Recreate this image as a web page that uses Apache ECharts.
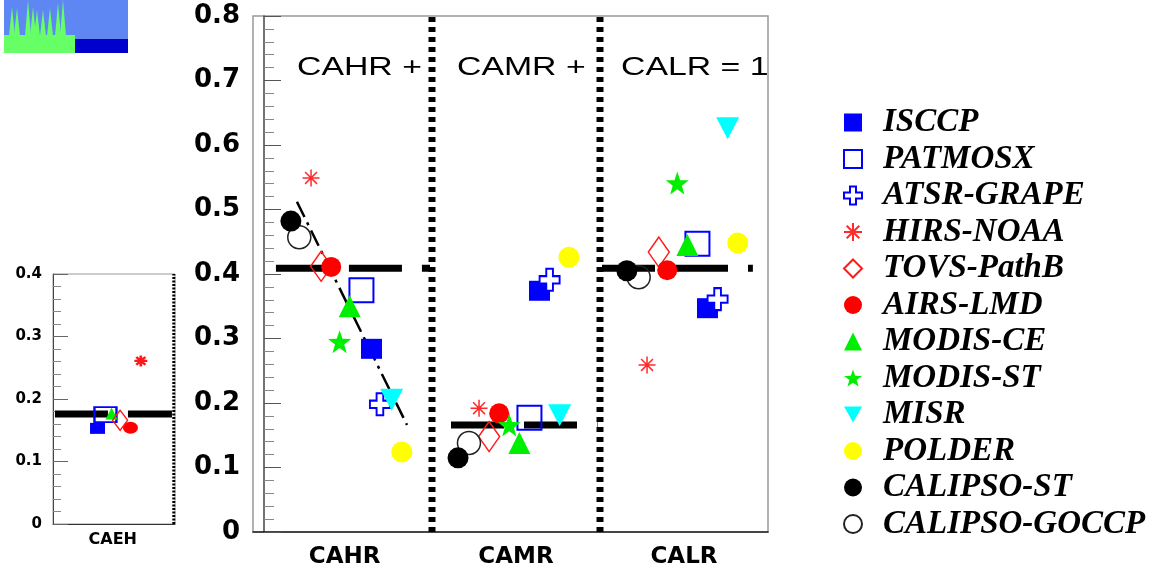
<!DOCTYPE html>
<html>
<head>
<meta charset="utf-8">
<script src="https://cdn.jsdelivr.net/npm/echarts@6/dist/echarts.min.js"></script>
<style>
html,body{margin:0;padding:0;background:#fff;}
#chart{width:1149px;height:571px;}
</style>
</head>
<body>
<div id="chart"></div>
<script>
// legend order
var products = ['ISCCP', 'PATMOSX', 'ATSR-GRAPE', 'HIRS-NOAA', 'TOVS-PathB', 'AIRS-LMD',
    'MODIS-CE', 'MODIS-ST', 'MISR', 'POLDER', 'CALIPSO-ST', 'CALIPSO-GOCCP'];

// main panel: x = 0..1 CAHR, 1..2 CAMR, 2..3 CALR ; y = cloud amount fraction
var isccp     = [[0.64, 0.284], [1.64, 0.374], [2.64, 0.347]];
var patmosx   = [[0.58, 0.375], [1.58, 0.177], [2.58, 0.447]];
var atsr      = [[0.69, 0.198], [1.70, 0.391], [2.70, 0.361]];
var hirs      = [[0.28, 0.549], [1.28, 0.192], [2.28, 0.259]];
var tovs      = [[0.34, 0.412], [1.34, 0.148], [2.35, 0.434]];
var airs      = [[0.40, 0.411], [1.40, 0.184], [2.40, 0.406]];
var modisCE   = [[0.51, 0.350], [1.52, 0.138], [2.52, 0.445]];
var modisST   = [[0.45, 0.295], [1.46, 0.166], [2.46, 0.541]];
var misr      = [[0.76, 0.205], [1.76, 0.181], [2.76, 0.626]];
var polder    = [[0.82, 0.124], [1.815, 0.426], [2.82, 0.448]];
var calipsoST = [[0.16, 0.482], [1.155, 0.115], [2.16, 0.405]];
var goccp     = [[0.21, 0.457], [1.22, 0.138], [2.23, 0.395]];

// mean values (thick dashed bars)
var meanCAHR = [[0.071, 0.409], [0.988, 0.409]];
var meanCAMR = [[1.113, 0.166], [1.985, 0.166]];
var meanCALR = [[2.012, 0.409], [2.91, 0.409]];
// regression line in CAHR
var trendCAHR = [[0.196, 0.512], [0.851, 0.166]];

// inset panel (CAEH)
var insetIsccp   = [[0.365, 0.153]];
var insetPatmosx = [[0.43, 0.175]];
var insetModisCE = [[0.48, 0.177]];
var insetTovs    = [[0.55, 0.166]];
var insetAirs    = [[0.635, 0.154]];
var insetHirs    = [[0.72, 0.261]];
var meanCAEH     = [[0.016, 0.176], [0.975, 0.176]];

var mainLabelPos = [0.48, 1.5, 2.5];
var mainLabels = ['CAHR', 'CAMR', 'CALR'];
var insetLabelPos = [0.49];
var insetLabels = ['CAEH'];

var STAR = 'path://M0,-10 L2.35,-3.24 L9.51,-3.09 L3.8,1.24 L5.88,8.09 L0,4 L-5.88,8.09 L-3.8,1.24 L-9.51,-3.09 L-2.35,-3.24 Z';
var CROSS = 'path://M-3,-9 L3,-9 L3,-3 L9,-3 L9,3 L3,3 L3,9 L-3,9 L-3,3 L-9,3 L-9,-3 L-3,-3 Z';
var ASTER = 'path://M0,-10 L0,10 M-10,0 L10,0 M-7,-7 L7,7 M-7,7 L7,-7';
var DOWN = 'path://M-10,-9 L10,-9 L0,9 Z';
var EMPTY = 'rgba(255,255,255,0)';

function pick(pos, labels) {
    return function (v) {
        for (var i = 0; i < pos.length; i++) {
            if (Math.abs(pos[i] - v) < 1e-6) return labels[i];
        }
        return '';
    };
}

function dots(name, data, symbol, size, style, idx) {
    return {
        type: 'scatter', name: name, data: data, symbol: symbol, symbolSize: size,
        itemStyle: Object.assign({opacity: 1}, style), xAxisIndex: idx, yAxisIndex: idx, z: 3, silent: true
    };
}

function bar(name, data, idx, width, dash) {
    return {
        type: 'line', name: name, data: data, symbol: 'none', xAxisIndex: idx, yAxisIndex: idx,
        lineStyle: {color: '#000', width: width, type: dash, cap: 'butt'}, z: 2, silent: true
    };
}

var sty = {
    isccp: {color: '#0000ff'},
    patmosx: {color: EMPTY, borderColor: '#0000ff', borderWidth: 2},
    atsr: {color: '#fff', borderColor: '#0000ff', borderWidth: 2},
    hirs: {color: EMPTY, borderColor: '#ff2a2a', borderWidth: 1.5},
    tovs: {color: EMPTY, borderColor: '#ff1a1a', borderWidth: 1.5},
    airs: {color: '#ff0000'},
    modisCE: {color: '#00ee00'},
    modisST: {color: '#00ee00'},
    misr: {color: '#00ffff'},
    polder: {color: '#ffff00'},
    calipsoST: {color: '#000'},
    goccp: {color: EMPTY, borderColor: '#222', borderWidth: 1.5}
};

var series = [
    bar('div1', [[1, 0], [1, 0.8]], 0, 7, [5, 5]),
    bar('div2', [[2, 0], [2, 0.8]], 0, 7, [5, 5]),
    bar('meanCAHR', meanCAHR, 0, 7, [53, 20]),
    bar('meanCAMR', meanCAMR, 0, 7, [53, 20]),
    bar('meanCALR', meanCALR, 0, 7, [53, 20]),
    bar('trendCAHR', trendCAHR, 0, 2.5, [17, 6, 3, 6]),
    bar('divInset', [[0.99, 0], [0.99, 0.4]], 1, 3, [2, 1.5]),
    bar('meanCAEH', meanCAEH, 1, 7, [53, 20]),

    dots('ISCCP', isccp, 'rect', [21, 20], sty.isccp, 0),
    dots('PATMOSX', patmosx, 'rect', [24, 24], sty.patmosx, 0),
    dots('ATSR-GRAPE', atsr, CROSS, [20, 22], sty.atsr, 0),
    dots('HIRS-NOAA', hirs, ASTER, [17, 17], sty.hirs, 0),
    dots('TOVS-PathB', tovs, 'diamond', [21, 30], sty.tovs, 0),
    dots('AIRS-LMD', airs, 'circle', 20, sty.airs, 0),
    dots('MODIS-CE', modisCE, 'triangle', [22, 22], sty.modisCE, 0),
    dots('MODIS-ST', modisST, STAR, [23, 23], sty.modisST, 0),
    dots('MISR', misr, DOWN, [23, 22], sty.misr, 0),
    dots('POLDER', polder, 'circle', 21, sty.polder, 0),
    dots('CALIPSO-GOCCP', goccp, 'circle', 23, sty.goccp, 0),
    dots('CALIPSO-ST', calipsoST, 'circle', 21, sty.calipsoST, 0),

    dots('ISCCP', insetIsccp, 'rect', [15, 11], sty.isccp, 1),
    dots('PATMOSX', insetPatmosx, 'rect', [22, 15], sty.patmosx, 1),
    dots('MODIS-CE', insetModisCE, 'triangle', [12, 12], sty.modisCE, 1),
    dots('AIRS-LMD', insetAirs, 'circle', [15, 12], sty.airs, 1),
    dots('TOVS-PathB', insetTovs, 'diamond', [15, 20], sty.tovs, 1),
    dots('HIRS-NOAA', insetHirs, ASTER, [13, 11], {color: EMPTY, borderColor: '#ff1a1a', borderWidth: 2.5}, 1)
];

// little logo in the corner
var trees = [[12, 7], [17, 8], [28, 0], [33, 7], [37, 10], [43, 10], [50, 8], [58, 3], [63, 0]];
var logo = [
    {type: 'rect', shape: {x: 4, y: 0, width: 124, height: 53}, style: {fill: '#5f87f3'}},
    {type: 'rect', shape: {x: 4, y: 35, width: 71, height: 18}, style: {fill: '#66ff66'}},
    {type: 'rect', shape: {x: 75, y: 39, width: 53, height: 14}, style: {fill: '#0000cc'}}
];
trees.forEach(function (t) {
    logo.push({type: 'polygon', shape: {points: [[t[0] - 3, 36], [t[0], t[1]], [t[0] + 3, 36]]}, style: {fill: '#66ff66'}});
});

var notes = [['CAHR +', 297], ['CAMR +', 457], ['CALR = 1', 621]].map(function (n) {
    return {
        type: 'text', x: n[1], y: 68, scaleX: 1.3, z: 10,
        style: {text: n[0], font: '26px "Liberation Sans"', fill: '#000', verticalAlign: 'middle'}
    };
});

var yFmt = function (v) { return v === 0 ? '0' : v.toFixed(1); };

echarts.init(document.getElementById('chart')).setOption({
    animation: false,
    backgroundColor: '#fff',
    grid: [
        {left: 253, top: 16, width: 515, height: 516, show: true, borderColor: '#999', borderWidth: 1.5},
        {left: 53, top: 274, width: 122, height: 250, show: true, borderColor: '#999', borderWidth: 1}
    ],
    xAxis: [
        {
            gridIndex: 0, type: 'value', min: -0.0655, max: 3,
            axisLine: {show: true, lineStyle: {color: '#222', width: 1.5}},
            axisTick: {show: false}, splitLine: {show: false},
            axisLabel: {
                customValues: mainLabelPos, formatter: pick(mainLabelPos, mainLabels),
                fontFamily: 'DejaVu Sans', fontWeight: 'bold', fontSize: 23, color: '#000', margin: 14
            }
        },
        {
            gridIndex: 1, type: 'value', min: 0, max: 1,
            axisLine: {show: true, lineStyle: {color: '#333', width: 1}},
            axisTick: {show: false}, splitLine: {show: false},
            axisLabel: {
                customValues: insetLabelPos, formatter: pick(insetLabelPos, insetLabels),
                fontFamily: 'DejaVu Sans', fontWeight: 'bold', fontSize: 16, color: '#000', margin: 8
            }
        }
    ],
    yAxis: [
        {
            gridIndex: 0, type: 'value', min: 0, max: 0.8, interval: 0.1,
            axisLine: {show: true, lineStyle: {color: '#444', width: 1.5}},
            axisTick: {show: true, inside: true, length: 17, lineStyle: {color: '#555'}},
            minorTick: {show: true, splitNumber: 5, length: 10, lineStyle: {color: '#888'}},
            splitLine: {show: false},
            axisLabel: {formatter: yFmt, fontFamily: 'DejaVu Sans', fontWeight: 'bold', fontSize: 26, color: '#000', margin: 13}
        },
        {
            gridIndex: 1, type: 'value', min: 0, max: 0.4, interval: 0.1,
            axisLine: {show: true, lineStyle: {color: '#444', width: 1}},
            axisTick: {show: true, inside: true, length: 15, lineStyle: {color: '#666'}},
            minorTick: {show: true, splitNumber: 5, length: 8, lineStyle: {color: '#888'}},
            splitLine: {show: false},
            axisLabel: {formatter: yFmt, fontFamily: 'DejaVu Sans', fontWeight: 'bold', fontSize: 15, color: '#000', margin: 11}
        }
    ],
    legend: {
        data: products, orient: 'vertical', left: 838, top: 101,
        itemWidth: 18, itemHeight: 18, itemGap: 3.5, selectedMode: false,
        textStyle: {
            fontFamily: 'Liberation Serif', fontStyle: 'italic', fontWeight: 'bold',
            fontSize: 33, lineHeight: 33, color: '#000', padding: [0, 0, 0, 16]
        }
    },
    graphic: logo.concat(notes),
    series: series
});
</script>
</body>
</html>
